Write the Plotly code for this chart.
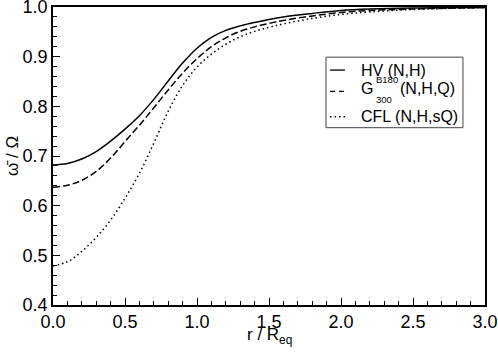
import plotly.graph_objects as go

# Radius in units of R_eq
r = [0.0, 0.1, 0.2, 0.3, 0.4, 0.5, 0.6, 0.7, 0.8, 0.9, 1.0, 1.1, 1.2,
     1.3, 1.4, 1.5, 1.6, 1.8, 2.0, 2.2, 2.5, 3.0]

# omega_bar / Omega for each model
hv = [0.682, 0.685, 0.694, 0.709, 0.730, 0.754, 0.781, 0.814, 0.851, 0.887,
      0.917, 0.939, 0.953, 0.962, 0.969, 0.975, 0.980, 0.987, 0.993, 0.996,
      0.998, 0.999]
g300 = [0.637, 0.641, 0.651, 0.669, 0.696, 0.729, 0.762, 0.797, 0.833, 0.867,
        0.896, 0.920, 0.938, 0.951, 0.960, 0.967, 0.973, 0.982, 0.989, 0.993,
        0.996, 0.999]
cfl = [0.479, 0.487, 0.508, 0.536, 0.571, 0.615, 0.665, 0.726, 0.790, 0.842,
       0.879, 0.905, 0.925, 0.940, 0.951, 0.959, 0.966, 0.977, 0.985, 0.990,
       0.995, 0.999]

x_ticks = [0.0, 0.5, 1.0, 1.5, 2.0, 2.5, 3.0]
y_ticks = [0.4, 0.5, 0.6, 0.7, 0.8, 0.9, 1.0]

dashes = ["solid", "7px,3px", "1.5px,3px"]
sample_dashes = ["solid", "5px,4px", "1.5px,3px"]

FONT = "Liberation Sans, Arial, Helvetica, sans-serif"

fig = go.Figure()
for ys, dash in zip([hv, g300, cfl], dashes):
    fig.add_trace(go.Scatter(
        x=r, y=ys, mode="lines", showlegend=False,
        line=dict(color="black", width=1.5, dash=dash, shape="spline", smoothing=1.0),
    ))

axis_common = dict(
    showline=True, linecolor="black", linewidth=1.5, mirror=True,
    ticks="inside", ticklen=7, tickwidth=1.3, tickcolor="black",
    showgrid=False, zeroline=False, automargin=False,
    tickfont=dict(family=FONT, size=18, color="black"),
    tickformat=".1f", ticklabeloverflow="allow",
)

fig.update_xaxes(
    range=[0, 3], tickvals=x_ticks,
    minor=dict(ticks="inside", dtick=0.1, tick0=0, ticklen=4, tickcolor="black", tickwidth=1),
    **axis_common,
)
fig.update_yaxes(
    range=[0.4, 1.0], tickvals=y_ticks,
    minor=dict(ticks="inside", dtick=0.02, tick0=0.4, ticklen=4, tickcolor="black", tickwidth=1),
    **axis_common,
)

# hand-made legend box (data coords), like the original figure
leg_x0, leg_x1, leg_y0, leg_y1 = 1.896, 2.847, 0.757, 0.899
sample_x = [1.924, 2.028]
row_y = [0.873, 0.830, 0.779]
text_x = 2.125

shapes = [dict(type="rect", xref="x", yref="y", x0=leg_x0, x1=leg_x1, y0=leg_y0, y1=leg_y1,
               line=dict(color="#444444", width=1), fillcolor="white", layer="above")]
for yy, dash in zip(row_y, sample_dashes):
    shapes.append(dict(type="line", xref="x", yref="y", x0=sample_x[0], x1=sample_x[1],
                       y0=yy, y1=yy, line=dict(color="black", width=1.3, dash=dash),
                       layer="above"))

lf = dict(family=FONT, size=16, color="black")
sf = dict(family=FONT, size=9.5, color="black")
annotations = [
    dict(text="HV (N,H)", x=text_x, y=row_y[0], xanchor="left", yanchor="middle", font=lf),
    dict(text="G", x=text_x, y=0.836, xanchor="left", yanchor="middle", font=lf),
    dict(text="B180", x=2.232, y=0.854, xanchor="left", yanchor="middle", font=sf),
    dict(text="300", x=2.232, y=0.814, xanchor="left", yanchor="middle", font=sf),
    dict(text="(N,H,Q)", x=2.395, y=0.836, xanchor="left", yanchor="middle", font=lf),
    dict(text="CFL (N,H,sQ)", x=text_x, y=row_y[2], xanchor="left", yanchor="middle", font=lf),
]
for a in annotations:
    a.update(xref="x", yref="y", showarrow=False)

# axis titles
annotations.append(dict(
    text="r / R<sub>eq</sub>", xref="paper", yref="paper", x=0.5, y=-0.062,
    xanchor="center", yanchor="top", showarrow=False,
    font=dict(family=FONT, size=17, color="black"),
))
annotations.append(dict(
    text="\u03c9\u0304 / \u03a9", xref="paper", yref="paper", x=-0.095, y=0.5,
    xanchor="center", yanchor="middle", textangle=-90, showarrow=False,
    font=dict(family=FONT, size=17, color="black"),
))

fig.update_layout(
    width=498, height=355,
    margin=dict(l=53, r=13, t=7, b=50),
    plot_bgcolor="white", paper_bgcolor="white",
    font=dict(family=FONT, color="black"),
    shapes=shapes, annotations=annotations,
)

# the page's default body margin would push the figure 8px down/right
fig.write_html("out.html", config={"displayModeBar": False},
               post_script="document.body.style.margin='0';")
